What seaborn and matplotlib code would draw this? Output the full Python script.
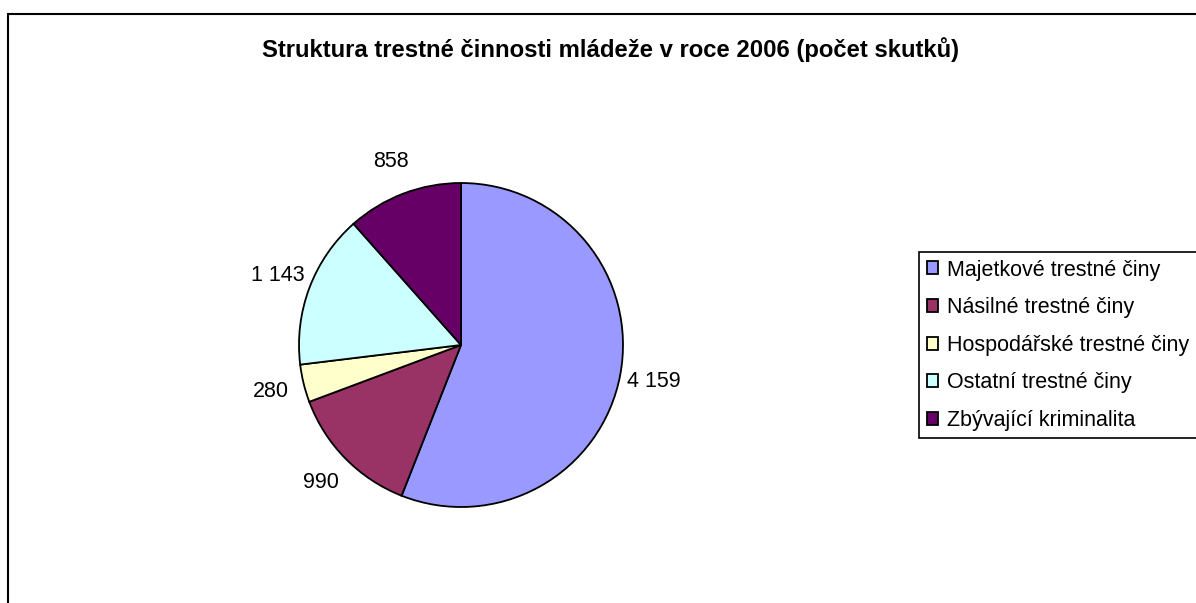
import matplotlib.pyplot as plt
import seaborn as sns
from matplotlib.lines import Line2D

categories = ["Majetkové trestné činy", "Násilné trestné činy", "Hospodářské trestné činy",
              "Ostatní trestné činy", "Zbývající kriminalita"]
counts = [4159, 990, 280, 1143, 858]
colors = ["#9999FF", "#993366", "#FFFFCC", "#CCFFFF", "#660066"]

sns.set_theme(style="white")
plt.rcParams["font.family"] = ["Liberation Sans", "DejaVu Sans"]
plt.rcParams["text.color"] = "black"

W, H = 1196, 603
fig = plt.figure(figsize=(W / 100, H / 100), dpi=100)

# outer chart border (right and bottom edges fall outside the picture)
fig.add_artist(Line2D([7.5 / W, 7.5 / W], [0, 1 - 13.5 / H], color="black", lw=1.5))
fig.add_artist(Line2D([7.5 / W, 1], [1 - 13.5 / H, 1 - 13.5 / H], color="black", lw=1.5))

fig.text(611 / W, 1 - 50 / H, "Struktura trestné činnosti mládeže v roce 2006 (počet skutků)",
         ha="center", va="center", fontsize=17.2, fontweight="bold", color="black")

# pie centred at (461, 345) px with radius 162 px
cx, cy, r = 461, 345, 162
ax = fig.add_axes([(cx - r) / W, (H - cy - r) / H, 2 * r / W, 2 * r / H])
labels = [f"{v:,}".replace(",", " ") for v in counts]
wedges, texts = ax.pie(counts, colors=colors, startangle=90, counterclock=False,
                       labels=labels, labeldistance=1.21,
                       wedgeprops=dict(edgecolor="black", linewidth=1.3),
                       textprops=dict(fontsize=15.5, color="black"))
for t in texts:
    t.set_ha("center")
    t.set_va("center")
ax.set_xlim(-1, 1)
ax.set_ylim(-1, 1)
ax.set_aspect("equal")
ax.axis("off")

leg = fig.legend(wedges, categories, loc="upper left", bbox_to_anchor=(919 / W, 1 - 252 / H),
                 frameon=True, fancybox=False, framealpha=1, edgecolor="black",
                 fontsize=15.5, handlelength=0.55, handleheight=0.55, handletextpad=0.4,
                 labelspacing=0.77, borderpad=0.35, borderaxespad=0)
leg.get_frame().set_linewidth(1.2)
for h in leg.legend_handles:
    h.set_linewidth(1.3)

fig.savefig("out.png", dpi=100)
